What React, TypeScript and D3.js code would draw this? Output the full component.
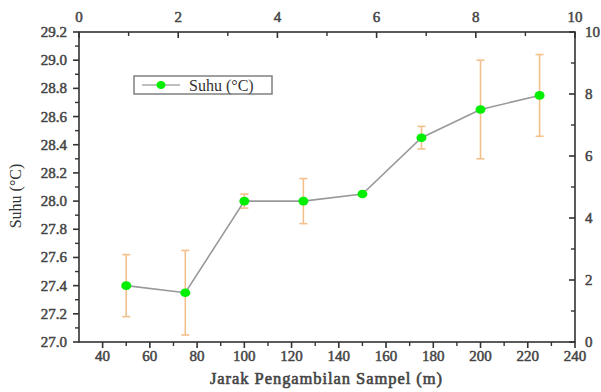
import React from "react";
import * as d3 from "d3";

const distances = [50, 75, 100, 125, 150, 175, 200, 225];
const suhu = [27.4, 27.35, 28.0, 28.0, 28.05, 28.45, 28.65, 28.75];
const suhuErr = [0.22, 0.3, 0.05, 0.16, 0, 0.08, 0.35, 0.29];
const bottomTicks = [40, 60, 80, 100, 120, 140, 160, 180, 200, 220, 240];
const bottomMinor = [50, 70, 90, 110, 130, 150, 170, 190, 210, 230];
const leftTicks = [27.0, 27.2, 27.4, 27.6, 27.8, 28.0, 28.2, 28.4, 28.6, 28.8, 29.0, 29.2];
const leftMinor = [27.1, 27.3, 27.5, 27.7, 27.9, 28.1, 28.3, 28.5, 28.7, 28.9, 29.1];
const auxTicks = [0, 2, 4, 6, 8, 10];
const auxMinor = [1, 3, 5, 7, 9];
const seriesName = "Suhu (°C)";
const xTitle = "Jarak Pengambilan Sampel (m)";
const yTitle = "Suhu (°C)";

export default function App() {
  const W = 601, H = 392;
  const L = 79, R = 575, T = 32, B = 342;
  const x = d3.scaleLinear().domain([30, 240]).range([L, R]);
  const y = d3.scaleLinear().domain([27.0, 29.2]).range([B, T]);
  const xTop = d3.scaleLinear().domain([0, 10]).range([L, R]);
  const yRight = d3.scaleLinear().domain([0, 10]).range([B, T]);
  const axisColor = "#333";
  const labelColor = "#444";
  const serif = { fontFamily: "'Liberation Serif', 'Times New Roman', Times, serif" };
  const boldish = { ...serif, fontWeight: 400, stroke: labelColor, strokeWidth: 0.5 } as React.CSSProperties;
  const line = d3.line<number>().x((_, i) => x(distances[i])).y((d) => y(d));

  return (
    <svg width={W} height={H} style={{ position: "absolute", left: 0, top: 0, background: "#fff", ...serif }}>
      {/* error bars */}
      {suhu.map((v, i) =>
        suhuErr[i] > 0 ? (
          <g key={"e" + i} stroke="#f3c08c" strokeWidth={1.6}>
            <line x1={x(distances[i])} x2={x(distances[i])} y1={y(v - suhuErr[i])} y2={y(v + suhuErr[i])} />
            <line x1={x(distances[i]) - 4} x2={x(distances[i]) + 4} y1={y(v + suhuErr[i])} y2={y(v + suhuErr[i])} />
            <line x1={x(distances[i]) - 4} x2={x(distances[i]) + 4} y1={y(v - suhuErr[i])} y2={y(v - suhuErr[i])} />
          </g>
        ) : null
      )}
      <path d={line(suhu) || ""} fill="none" stroke="#999" strokeWidth={1.6} />
      {suhu.map((v, i) => (
        <ellipse key={"p" + i} cx={x(distances[i])} cy={y(v)} rx={5} ry={4.3} fill="#00ee00" />
      ))}

      {/* frame */}
      <rect x={L} y={T} width={R - L} height={B - T} fill="none" stroke={axisColor} strokeWidth={1.6} />

      {/* bottom axis */}
      {bottomTicks.map((t) => (
        <g key={"b" + t}>
          <line x1={x(t)} x2={x(t)} y1={B} y2={B + 6} stroke={axisColor} strokeWidth={1.6} />
          <text x={x(t)} y={361} textAnchor="middle" fontSize={15} fill={labelColor} style={boldish}>{t}</text>
        </g>
      ))}
      {bottomMinor.map((t) => (
        <line key={"bm" + t} x1={x(t)} x2={x(t)} y1={B} y2={B + 4} stroke={axisColor} strokeWidth={1.4} />
      ))}

      {/* left axis */}
      {leftTicks.map((t) => (
        <g key={"l" + t}>
          <line x1={L - 6} x2={L} y1={y(t)} y2={y(t)} stroke={axisColor} strokeWidth={1.6} />
          <text x={67} y={y(t) + 5} textAnchor="end" fontSize={15} fill={labelColor} style={boldish}>{t.toFixed(1)}</text>
        </g>
      ))}
      {leftMinor.map((t) => (
        <line key={"lm" + t} x1={L - 4} x2={L} y1={y(t)} y2={y(t)} stroke={axisColor} strokeWidth={1.4} />
      ))}

      {/* top axis */}
      {auxTicks.map((t) => (
        <g key={"t" + t}>
          <line x1={xTop(t)} x2={xTop(t)} y1={T} y2={T + 6} stroke={axisColor} strokeWidth={1.6} />
          <text x={xTop(t)} y={22} textAnchor="middle" fontSize={15} fill={labelColor} style={boldish}>{t}</text>
        </g>
      ))}
      {auxMinor.map((t) => (
        <line key={"tm" + t} x1={xTop(t)} x2={xTop(t)} y1={T} y2={T + 4} stroke={axisColor} strokeWidth={1.4} />
      ))}

      {/* right axis */}
      {auxTicks.map((t) => (
        <g key={"r" + t}>
          <line x1={R - 6} x2={R} y1={yRight(t)} y2={yRight(t)} stroke={axisColor} strokeWidth={1.6} />
          <text x={585} y={yRight(t) + 5} textAnchor="start" fontSize={15} fill={labelColor} style={boldish}>{t}</text>
        </g>
      ))}
      {auxMinor.map((t) => (
        <line key={"rm" + t} x1={R - 4} x2={R} y1={yRight(t)} y2={yRight(t)} stroke={axisColor} strokeWidth={1.4} />
      ))}

      {/* titles */}
      <text x={210} y={384} fontSize={16.5} fill={labelColor} textLength={232} lengthAdjust="spacing" style={{ ...boldish, strokeWidth: 0.6 }}>{xTitle}</text>
      <text transform={`translate(21, 196) rotate(-90)`} textAnchor="middle" fontSize={16} fill="#333" style={serif}>{yTitle}</text>

      {/* legend */}
      <rect x={134} y={76} width={138} height={18} fill="#fff" stroke="#777" strokeWidth={1.4} />
      <line x1={142} x2={180} y1={85} y2={85} stroke="#aaa" strokeWidth={1.6} />
      <ellipse cx={161} cy={85} rx={4.5} ry={4} fill="#00ee00" />
      <text x={189} y={90.5} fontSize={16} fill="#333" style={serif}>{seriesName}</text>
    </svg>
  );
}
